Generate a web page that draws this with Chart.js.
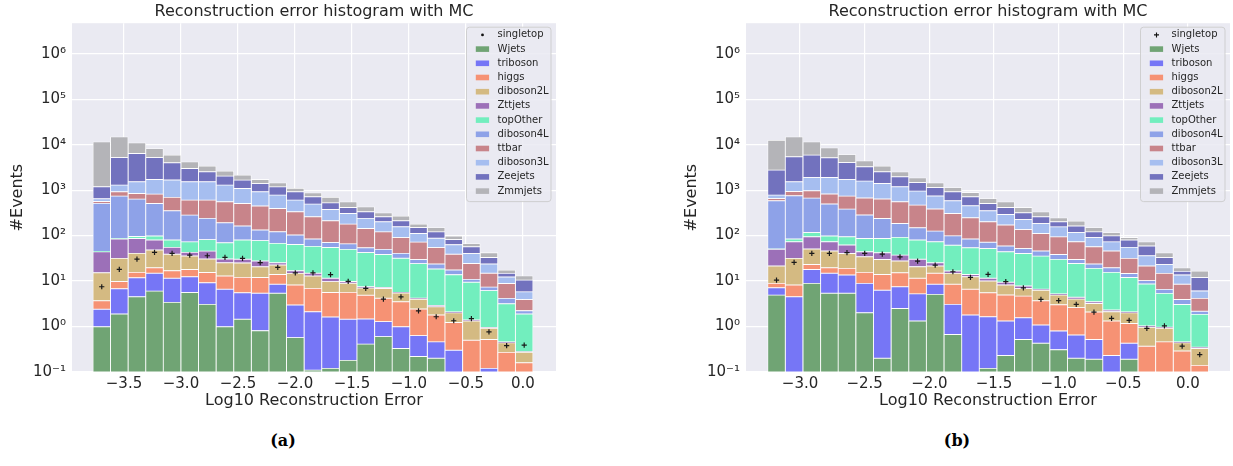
<!DOCTYPE html>
<html>
<head>
<meta charset="utf-8">
<script src="https://cdn.jsdelivr.net/npm/chart.js@4.4.1/dist/chart.umd.min.js"></script>
<style>
  body { margin: 0; background: #fff; }
  #page { position: relative; width: 1233px; height: 466px; overflow: hidden; }
  canvas { position: absolute; top: 0; }
  #chartA { left: 0; }
  #chartB { left: 674px; }
  .caption { position: absolute; top: 431px; width: 60px; line-height: 20px; text-align: center;
             font: bold 16px "DejaVu Serif", serif; color: #000; }
</style>
</head>
<body>
<div id="page">
  <canvas id="chartA" width="628" height="414"></canvas>
  <canvas id="chartB" width="628" height="414"></canvas>
  <div class="caption" style="left:253px">(a)</div>
  <div class="caption" style="left:927px">(b)</div>
</div>
<script>
const seriesNames = ["Wjets", "triboson", "higgs", "diboson2L", "Zttjets", "topOther",
                     "diboson4L", "ttbar", "diboson3L", "Zeejets", "Zmmjets"];
const seriesColors = ["#70a474", "#7676f6", "#f69274", "#d4ba82", "#9c70b8", "#72eebe",
                      "#8ea2e8", "#c8848a", "#a6bef0", "#7272be", "#b4b4b8"];

// panel (a): bin centres and counts
const binsA = [-3.695, -3.541, -3.386, -3.232, -3.078, -2.923, -2.769, -2.614, -2.460, -2.305,
               -2.151, -1.997, -1.842, -1.688, -1.533, -1.379, -1.224, -1.070, -0.916, -0.761,
               -0.607, -0.452, -0.298, -0.143, 0.011];
const xTicksA = [-3.5, -3.0, -2.5, -2.0, -1.5, -1.0, -0.5, 0.0];
const singletopA = [7.5, 18, 30.5, 42.7, 40.5, 37, 36, 33, 31.5, 25.3, 20, 15.2, 15.2, 13.8, 9.8,
                    6.9, 4.0, 4.5, 2.2, 1.64, 1.34, 1.49, 0.76, 0.38, 0.39];
const wjetsA = [0.99, 1.88, 4.5, 6.0, 3.4, 5.6, 3.07, 0.99, 1.44, 0.81, 5.4, 0.57, 0.11, 0.12, 0.18,
                0.41, 0.60, 0.33, 0.22, 0.20, 0, 0, 0, 0, 0];
const tribosonA = [1.4, 4.9, 7.3, 8.8, 8.1, 6.8, 6.1, 5.6, 4.1, 4.6, 3.1, 2.4, 2.0, 1.5, 1.26,
                   1.05, 0.68, 0.66, 0.41, 0.26, 0.30, 0, 0.12, 0, 0];
const higgsA = [1.3, 3.0, 3.7, 4.8, 5.4, 5.6, 6.3, 6.3, 6.5, 6.6, 5.5, 5.2, 4.8, 4.0, 4.2,
                3.4, 2.9, 2.5, 1.8, 1.33, 0.93, 0.50, 0.40, 0.27, 0.16];
const diboson2LA = [11.5, 21.7, 25.1, 28.4, 22.1, 17.4, 15.0, 12.4, 13, 8.6, 8.5, 6.6, 6.0, 4.1, 3.3,
                    2.2, 2.7, 1.95, 1.52, 0.94, 0.77, 0.82, 0.39, 0.17, 0.11];
const zttjetsA = [28.8, 52.5, 45.4, 32, 16, 7.3, 15.1, 5.2, 5, 6.9, 2.8, 2.1, 1.9, 1.8, 0.8,
                  0.4, 0.3, 0.2, 0.25, 0.17, 0.1, 0.07, 0.04, 0.02, 0.01];
const topOtherA = [1, 2, 9, 17.5, 25, 30, 36, 39, 50, 50, 42, 47, 43, 43, 40,
                   35, 31, 26, 20, 15.5, 11.7, 8.0, 5.2, 2.7, 1.6];
const diboson4LA = [465, 652, 539, 412, 271, 209, 157, 122, 82, 55, 54, 39, 26, 16, 16,
                    11.3, 11.5, 9, 5.6, 5.3, 3.7, 1.5, 1.2, 1.0, 0.35];
const ttbarA = [50, 180, 212, 307, 341, 321, 364, 361, 347, 313, 274, 231, 176, 141, 113,
                90, 71, 50, 42, 31, 21.5, 13.5, 7.5, 4.7, 1.7];
const diboson3LA = [86, 370, 677, 901, 968, 920, 920, 735, 580, 473, 381, 269, 232, 164, 128,
                    95, 80, 65, 39, 33, 24, 16, 8.9, 3.4, 1.85];
const zeejetsA = [537, 3930, 4880, 3500, 2320, 1470, 1000, 740, 570, 480, 400, 315, 221, 149, 109,
                  95, 59, 56, 40, 33, 19, 16.5, 9.3, 2.5, 4.7];
const zmmjetsA = [10300, 9680, 4560, 3020, 1900, 1200, 840, 590, 480, 320, 270, 172, 160, 167, 137,
                  96, 58, 56, 28, 30, 15.5, 10, 9, 2.7, 2.6];

// panel (b)
const binsB = [-3.182, -3.046, -2.909, -2.773, -2.637, -2.500, -2.364, -2.227, -2.091, -1.955,
               -1.818, -1.682, -1.546, -1.409, -1.273, -1.137, -1.000, -0.864, -0.727, -0.591,
               -0.455, -0.318, -0.182, -0.045, 0.091];
const xTicksB = [-3.0, -2.5, -2.0, -1.5, -1.0, -0.5, 0.0];
const singletopB = [10.5, 25.7, 40.5, 40.5, 42, 40.5, 39, 34, 27.5, 22.5, 16, 12, 14, 9.7, 7.1,
                    3.95, 3.7, 3.07, 2.08, 1.51, 1.36, 0.91, 1.03, 0.37, 0.24];
const wjetsB = [4.9, 0, 8.9, 5.4, 5.4, 2.0, 0.20, 2.5, 1.32, 5.1, 0.67, 0, 0.12, 0.23, 0.52,
                0.43, 0.31, 0.20, 0.19, 0, 0.19, 0, 0, 0, 0];
const tribosonB = [2.2, 4.5, 9.1, 9.4, 8.2, 6.9, 6.1, 5.0, 3.9, 3.4, 2.4, 1.79, 1.52, 1.09, 1.04,
                   0.65, 0.49, 0.45, 0.33, 0.23, 0.24, 0, 0, 0, 0];
const higgsB = [1.8, 3.7, 5.2, 4.8, 5.4, 6.6, 7.7, 7.7, 6.3, 6.3, 5.4, 4.8, 3.9, 3.6, 3.1,
                2.6, 2.2, 1.95, 1.56, 1.09, 0.74, 0.37, 0.46, 0.29, 0.14];
const diboson2LB = [12.5, 23.3, 27.3, 26, 21.5, 18.8, 15.9, 12.3, 9.2, 6.6, 6.3, 5.9, 4.5, 3.3, 2.2,
                    2.6, 1.93, 1.4, 1.12, 0.80, 0.83, 0.59, 0.45, 0.15, 0.19];
const zttjetsB = [28.3, 41.5, 43.5, 27.4, 21.3, 9.7, 12.1, 9.7, 9.3, 3.9, 1.8, 1.5, 1.5, 1.2, 0.9,
                  0.3, 0.3, 0.4, 0.3, 0.18, 0.1, 0.07, 0.05, 0.02, 0.02];
const topOtherB = [1.3, 11, 23, 24.5, 32, 42.5, 44.5, 54, 50, 48, 45, 40, 40.5, 34.6, 32.7,
                   28.8, 24.7, 20, 15.5, 13.2, 9.9, 7.6, 4.4, 2.6, 1.5];
const diboson4LB = [531, 666, 550, 395, 288, 196, 152, 94, 68, 52, 37, 30, 19, 15, 11.5,
                    10.2, 8.6, 5.5, 4.7, 4.1, 2.7, 1.6, 1.2, 0.88, 0.31];
const ttbarB = [73, 183, 299, 325, 356, 385, 396, 368, 319, 257, 208, 162, 130, 111, 84,
                65, 55, 43, 33, 26, 16.8, 11.2, 8.2, 4.6, 2.0];
const diboson3LB = [121, 590, 931, 1080, 976, 908, 766, 630, 483, 356, 275, 206, 150, 122, 90,
                    74, 62, 44, 34, 27, 23.5, 14.6, 8.4, 5.1, 1.9];
const zeejetsB = [1974, 3877, 3973, 3233, 2336, 1675, 1120, 780, 520, 405, 336, 261, 158, 124, 92,
                  74, 45, 45, 30, 26, 25, 22.7, 9.8, 2.7, 5.9];
const zmmjetsB = [9750, 9460, 5660, 3380, 2020, 1150, 850, 562, 395, 307, 225, 175, 146, 137, 98,
                  75, 45, 46, 30, 18, 11, 14.3, 9, 3.3, 4.6];

const yTicks = [0.1, 1, 10, 100, 1e3, 1e4, 1e5, 1e6];
const textColor = "#262626";
const fontFamily = "'DejaVu Sans', sans-serif";

function supText(n) {
  const digits = "⁰¹²³⁴⁵⁶⁷⁸⁹";
  return String(n).split("").map(c => (c === "-" ? "⁻" : digits[+c])).join("");
}

const chartBackground = {
  id: "chartBackground",
  beforeDraw(chart) {
    const { ctx, chartArea: a } = chart;
    ctx.save();
    ctx.fillStyle = "#eaeaf2";
    ctx.fillRect(a.left, a.top, a.width, a.height);
    ctx.restore();
  }
};

// matplotlib-like legend box in the upper right corner
const legendBox = {
  id: "legendBox",
  afterDatasetsDraw(chart, args, opts) {
    const { ctx, chartArea: a } = chart;
    const sets = chart.data.datasets;
    const rowH = 14.2, w = 84.5, h = sets.length * rowH + 4;
    const x = a.right - 5 - w, y = a.top + 4;
    ctx.save();
    ctx.beginPath();
    ctx.roundRect(x, y, w, h, 3);
    ctx.fillStyle = "rgba(234,234,242,0.85)";
    ctx.fill();
    ctx.strokeStyle = "rgba(204,204,204,0.9)";
    ctx.lineWidth = 1;
    ctx.stroke();
    ctx.font = "10px " + fontFamily;
    ctx.textBaseline = "middle";
    sets.forEach((ds, i) => {
      const cy = y + 7.7 + i * rowH;
      if (ds.type === "line") {
        ctx.fillStyle = "#111";
        ctx.strokeStyle = "#111";
        if (opts.marker === "dot") {
          ctx.beginPath();
          ctx.arc(x + 16, cy, 1.4, 0, Math.PI * 2);
          ctx.fill();
        } else {
          ctx.lineWidth = 1.1;
          ctx.beginPath();
          ctx.moveTo(x + 13.5, cy); ctx.lineTo(x + 18.5, cy);
          ctx.moveTo(x + 16, cy - 2.5); ctx.lineTo(x + 16, cy + 2.5);
          ctx.stroke();
        }
      } else {
        ctx.fillStyle = ds.backgroundColor;
        ctx.fillRect(x + 9.3, cy - 2.8, 13.3, 5.6);
      }
      ctx.fillStyle = textColor;
      ctx.fillText(ds.label, x + 31, cy);
    });
    ctx.restore();
  }
};

function makeChart(id, bins, stacks, singletop, xMin, xMax, xTicks, marker) {
  const datasets = [{
    type: "line",
    label: "singletop",
    data: bins.map((b, i) => ({ x: b, y: singletop[i] })),
    stack: "points",
    showLine: false,
    pointStyle: "cross",
    pointRadius: 2.6,
    pointBorderWidth: 1.2,
    pointBorderColor: "#1a1a1a",
    backgroundColor: "#1a1a1a"
  }];
  stacks.forEach((values, k) => {
    datasets.push({
      type: "bar",
      label: seriesNames[k],
      data: bins.map((b, i) => ({ x: b, y: values[i] > 0 ? values[i] : null })),
      backgroundColor: seriesColors[k],
      borderColor: "rgba(255,255,255,0.85)",
      borderWidth: 0.8,
      borderSkipped: false,
      barPercentage: 1,
      categoryPercentage: 1
    });
  });

  return new Chart(document.getElementById(id), {
    type: "bar",
    data: { datasets },
    options: {
      responsive: false,
      animation: false,
      plugins: {
        legend: { display: false },
        tooltip: { enabled: false },
        legendBox: { marker },
        title: {
          display: true,
          text: "Reconstruction error histogram with MC",
          color: textColor,
          font: { family: fontFamily, size: 16, weight: "normal" },
          padding: { top: 2, bottom: 2 }
        }
      },
      scales: {
        x: {
          type: "linear",
          stacked: true,
          offset: false,
          min: xMin,
          max: xMax,
          afterBuildTicks: (scale) => { scale.ticks = xTicks.map(v => ({ value: v })); },
          afterFit: (scale) => { scale.height = 42; scale.paddingLeft = 0; scale.paddingRight = 0; },
          grid: { color: "#ffffff", lineWidth: 1.2, drawTicks: false, offset: false },
          border: { display: false },
          ticks: {
            padding: 3,
            maxRotation: 0,
            color: textColor,
            font: { family: fontFamily, size: 15 },
            callback: (v) => (v === 0 ? "0.0" : v.toFixed(1).replace("-", "−"))
          },
          title: {
            display: true,
            text: "Log10 Reconstruction Error",
            color: textColor,
            font: { family: fontFamily, size: 16 },
            padding: { top: 0, bottom: 4 }
          }
        },
        y: {
          type: "logarithmic",
          stacked: true,
          min: 0.1,
          max: 4.68e6,
          afterBuildTicks: (scale) => { scale.ticks = yTicks.map(v => ({ value: v })); },
          afterFit: (scale) => { scale.width = 72; scale.paddingTop = 0; scale.paddingBottom = 0; },
          grid: { color: "#ffffff", lineWidth: 1.2, drawTicks: false },
          border: { display: false },
          ticks: {
            padding: 6,
            color: textColor,
            font: { family: fontFamily, size: 15 },
            callback: (v) => "10" + supText(Math.round(Math.log10(v)))
          },
          title: {
            display: true,
            text: "#Events",
            color: textColor,
            font: { family: fontFamily, size: 16 },
            padding: { top: 8, bottom: 0 }
          }
        },
        // empty right-hand spacer so the title stays centred on the axes
        spacer: {
          type: "linear",
          position: "right",
          grid: { display: false, drawTicks: false },
          border: { display: false },
          ticks: { display: false },
          afterFit: (scale) => { scale.width = 72; scale.paddingTop = 0; scale.paddingBottom = 0; }
        }
      }
    },
    plugins: [chartBackground, legendBox]
  });
}

makeChart("chartA", binsA,
  [wjetsA, tribosonA, higgsA, diboson2LA, zttjetsA, topOtherA, diboson4LA, ttbarA, diboson3LA, zeejetsA, zmmjetsA],
  singletopA, -3.956, 0.290, xTicksA, "dot");

makeChart("chartB", binsB,
  [wjetsB, tribosonB, higgsB, diboson2LB, zttjetsB, topOtherB, diboson4LB, ttbarB, diboson3LB, zeejetsB, zmmjetsB],
  singletopB, -3.418, 0.325, xTicksB, "cross");
</script>
</body>
</html>
